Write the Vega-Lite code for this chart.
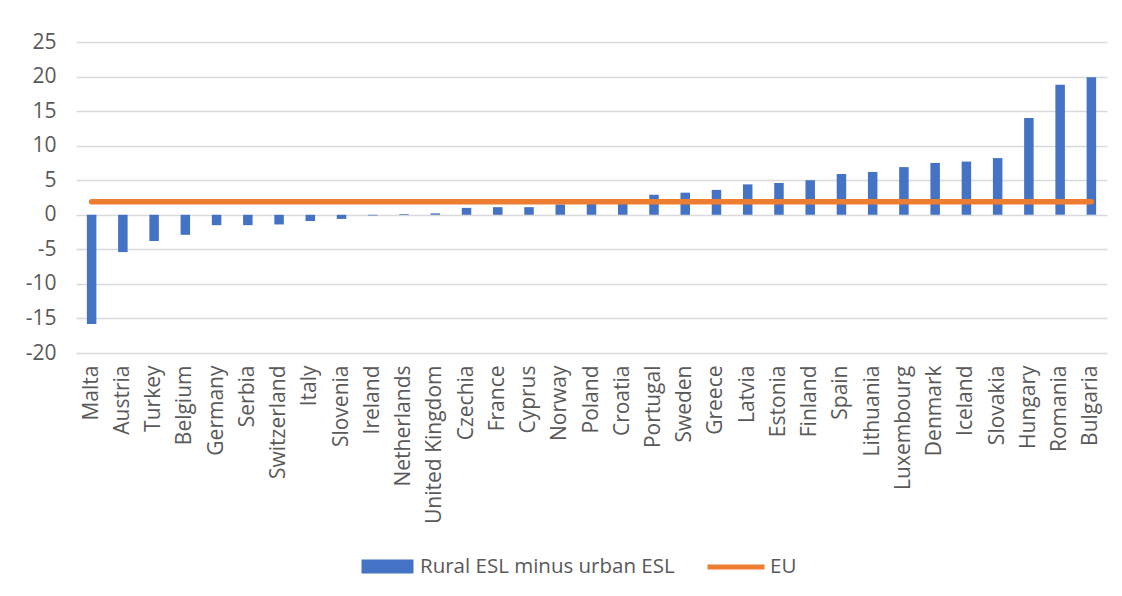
{
  "$schema": "https://vega.github.io/schema/vega-lite/v6.json",
  "autosize": {"type": "none"},
  "width": 1031,
  "height": 311,
  "padding": {"left": 76, "top": 42, "right": 15, "bottom": 243},
  "background": "white",
  "config": {
    "view": {"stroke": null},
    "font": "Open Sans",
    "axis": {"labelFont": "Open Sans", "labelColor": "#595959", "labelFontSize": 21},
    "legend": {"labelFont": "Open Sans", "labelColor": "#595959", "labelFontSize": 20.5, "labelLimit": 500}
  },
  "data": {
    "values": [
      {"country": "Malta", "diff": -15.8, "eu": 1.9},
      {"country": "Austria", "diff": -5.4, "eu": 1.9},
      {"country": "Turkey", "diff": -3.8, "eu": 1.9},
      {"country": "Belgium", "diff": -2.9, "eu": 1.9},
      {"country": "Germany", "diff": -1.5, "eu": 1.9},
      {"country": "Serbia", "diff": -1.5, "eu": 1.9},
      {"country": "Switzerland", "diff": -1.4, "eu": 1.9},
      {"country": "Italy", "diff": -0.9, "eu": 1.9},
      {"country": "Slovenia", "diff": -0.6, "eu": 1.9},
      {"country": "Ireland", "diff": -0.1, "eu": 1.9},
      {"country": "Netherlands", "diff": 0.1, "eu": 1.9},
      {"country": "United Kingdom", "diff": 0.2, "eu": 1.9},
      {"country": "Czechia", "diff": 1.0, "eu": 1.9},
      {"country": "France", "diff": 1.1, "eu": 1.9},
      {"country": "Cyprus", "diff": 1.1, "eu": 1.9},
      {"country": "Norway", "diff": 1.5, "eu": 1.9},
      {"country": "Poland", "diff": 1.7, "eu": 1.9},
      {"country": "Croatia", "diff": 2.1, "eu": 1.9},
      {"country": "Portugal", "diff": 2.9, "eu": 1.9},
      {"country": "Sweden", "diff": 3.2, "eu": 1.9},
      {"country": "Greece", "diff": 3.6, "eu": 1.9},
      {"country": "Latvia", "diff": 4.4, "eu": 1.9},
      {"country": "Estonia", "diff": 4.6, "eu": 1.9},
      {"country": "Finland", "diff": 5.0, "eu": 1.9},
      {"country": "Spain", "diff": 5.9, "eu": 1.9},
      {"country": "Lithuania", "diff": 6.2, "eu": 1.9},
      {"country": "Luxembourg", "diff": 6.9, "eu": 1.9},
      {"country": "Denmark", "diff": 7.5, "eu": 1.9},
      {"country": "Iceland", "diff": 7.7, "eu": 1.9},
      {"country": "Slovakia", "diff": 8.2, "eu": 1.9},
      {"country": "Hungary", "diff": 14.0, "eu": 1.9},
      {"country": "Romania", "diff": 18.8, "eu": 1.9},
      {"country": "Bulgaria", "diff": 19.9, "eu": 1.9}
    ]
  },
  "encoding": {
    "x": {
      "field": "country",
      "type": "nominal",
      "sort": null,
      "title": null,
      "scale": {"paddingInner": 0, "paddingOuter": 0},
      "axis": {"labelAngle": -90, "domain": false, "ticks": false, "tickSize": 0, "labelPadding": 12, "grid": false, "labelLimit": 300, "labelOverlap": false}
    },
    "y": {
      "type": "quantitative",
      "title": null,
      "scale": {"domain": [-20, 25], "nice": false, "zero": false},
      "axis": {"values": [-20, -15, -10, -5, 0, 5, 10, 15, 20, 25], "labelExpr": "datum.value + ''", "labelOverlap": false, "domain": false, "ticks": false, "tickSize": 0, "labelPadding": 20, "gridColor": "#D9D9D9", "gridWidth": 1.3}
    }
  },
  "layer": [
    {
      "mark": {"type": "bar", "size": 9.5},
      "encoding": {
        "y": {"field": "diff"},
        "fill": {
          "datum": "Rural ESL minus urban ESL",
          "scale": {"range": ["#4472C4"]},
          "legend": {
            "title": null,
            "orient": "none",
            "legendX": 294,
            "legendY": 507,
            "symbolType": "M-1.5,-0.4H1.5V0.4H-1.5Z",
            "symbolSize": 1200,
            "symbolStrokeWidth": 0,
            "labelOffset": 15
          }
        }
      }
    },
    {
      "mark": {"type": "line", "strokeWidth": 5.5, "strokeCap": "round"},
      "encoding": {
        "y": {"field": "eu"},
        "stroke": {
          "datum": "EU",
          "scale": {"range": ["#ED7D31"]},
          "legend": {
            "title": null,
            "orient": "none",
            "legendX": 629,
            "legendY": 494,
            "symbolType": "stroke",
            "symbolSize": 3249,
            "symbolStrokeWidth": 5,
            "labelOffset": 3
          }
        }
      }
    }
  ]
}
